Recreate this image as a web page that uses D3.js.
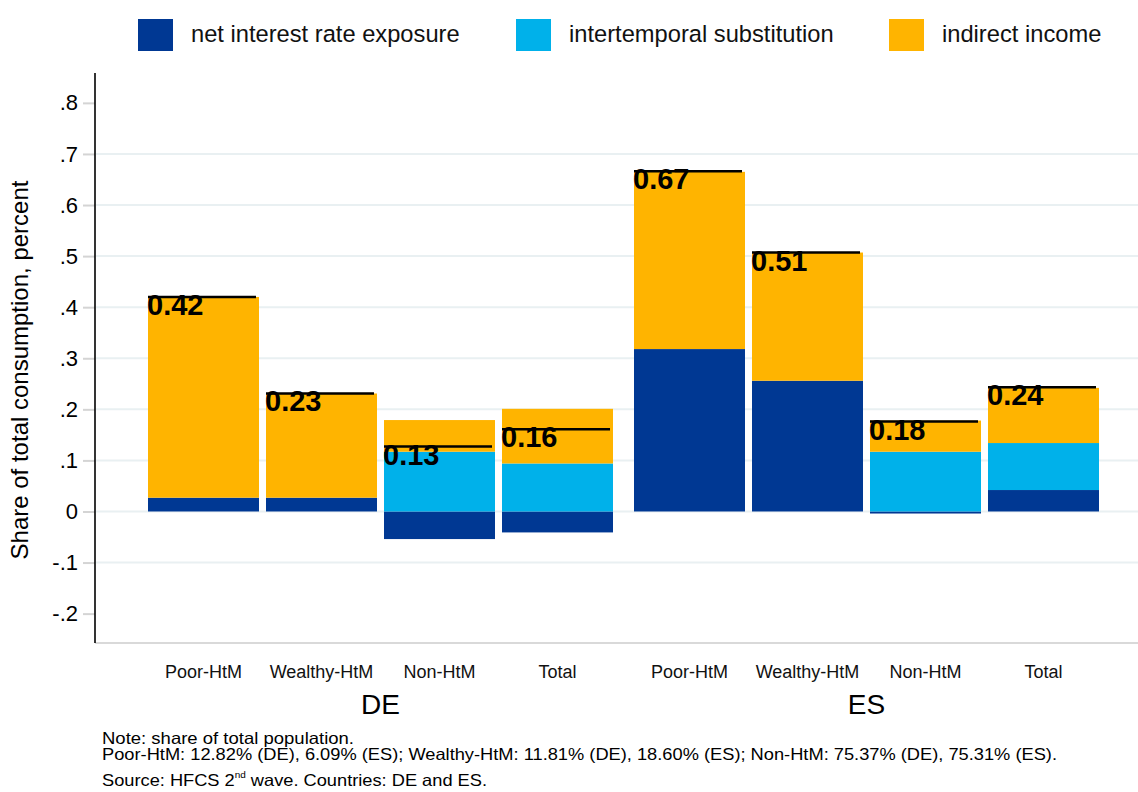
<!DOCTYPE html>
<html>
<head>
<meta charset="utf-8">
<script src="https://cdn.jsdelivr.net/npm/d3@7"></script>
<style>
  html, body { margin: 0; padding: 0; background: #fff; }
  svg { display: block; font-family: "Liberation Sans", Arial, Helvetica, sans-serif; }
</style>
</head>
<body>
<svg id="chart" width="1138" height="792"></svg>
<script>
// ---- data ----
const countries = ["DE", "ES"];
const groups = ["Poor-HtM", "Wealthy-HtM", "Non-HtM", "Total"];
const seriesNames = ["net interest rate exposure", "intertemporal substitution", "indirect income"];
const seriesColors = ["#003893", "#00b1ea", "#ffb400"];
// order: DE (Poor, Wealthy, Non, Total), ES (Poor, Wealthy, Non, Total)
const netInterest   = [0.027, 0.027, -0.054, -0.041, 0.318, 0.256, -0.004, 0.042];
const intertemporal = [0.000, 0.000,  0.117,  0.094, 0.000, 0.000,  0.117, 0.092];
const indirectInc   = [0.393, 0.204,  0.062,  0.107, 0.347, 0.251,  0.061, 0.108];
const totalEffect   = [0.420, 0.231,  0.127,  0.161, 0.666, 0.507,  0.176, 0.243];
const yTicks = [-0.2, -0.1, 0, 0.1, 0.2, 0.3, 0.4, 0.5, 0.6, 0.7, 0.8];
const noteLines = [
  "Note: share of total population.",
  "Poor-HtM: 12.82% (DE), 6.09% (ES); Wealthy-HtM: 11.81% (DE), 18.60% (ES); Non-HtM: 75.37% (DE), 75.31% (ES)."
];

// ---- build rows ----
const rows = [];
countries.forEach((c, ci) => groups.forEach((g, gi) => {
  const i = ci * groups.length + gi;
  rows.push({
    country: c, group: g,
    [seriesNames[0]]: netInterest[i],
    [seriesNames[1]]: intertemporal[i],
    [seriesNames[2]]: indirectInc[i],
    total: totalEffect[i]
  });
}));

const svg = d3.select("#chart");
const axisX = 95, plotRight = 1138, plotTop = 73, plotBottom = 643;

const y = d3.scaleLinear().domain([-0.2575, 0.8585]).range([plotBottom, plotTop]);
const xOuter = d3.scaleBand().domain(countries).range([148, 1099]).paddingInner(21 / 486).paddingOuter(0);
const xInner = d3.scaleBand().domain(groups).range([0, xOuter.bandwidth()]).paddingInner(7 / 118).paddingOuter(0);
const xPos = d => xOuter(d.country) + xInner(d.group);

// gridlines (inner ticks only)
svg.append("g").selectAll("line")
  .data(yTicks.filter(t => t > -0.2 && t < 0.8))
  .join("line")
  .attr("x1", axisX + 1).attr("x2", plotRight)
  .attr("y1", d => y(d)).attr("y2", d => y(d))
  .attr("stroke", "#e9f0f2").attr("stroke-width", 2);

// y axis
const fmtTick = v => {
  if (Math.abs(v) < 1e-9) return "0";
  return d3.format(".1f")(v).replace("\u2212", "-").replace("0.", ".");
};
const yAxis = d3.axisLeft(y).tickValues(yTicks).tickFormat(fmtTick).tickSize(12).tickPadding(5);
const gy = svg.append("g").attr("transform", `translate(${axisX},0)`).call(yAxis);
gy.select(".domain").remove();
gy.selectAll(".tick line").attr("stroke", "#d4d4d4").attr("stroke-width", 2);
gy.selectAll(".tick text").attr("font-size", 22).attr("fill", "#000")
  .attr("font-family", "'Liberation Sans', Arial, sans-serif");

// bottom axis line
svg.append("line").attr("x1", axisX).attr("x2", plotRight)
  .attr("y1", plotBottom).attr("y2", plotBottom)
  .attr("stroke", "#d9d9d9").attr("stroke-width", 2);

// stacked bars
const stack = d3.stack().keys(seriesNames).offset(d3.stackOffsetDiverging);
const layers = stack(rows);
svg.append("g").selectAll("g")
  .data(layers).join("g")
  .attr("fill", (d, i) => seriesColors[i])
  .selectAll("rect")
  .data(d => d.filter(s => Math.abs(s[1] - s[0]) > 1e-9))
  .join("rect")
  .attr("x", s => xPos(s.data))
  .attr("width", xInner.bandwidth())
  .attr("y", s => y(Math.max(s[0], s[1])))
  .attr("height", s => Math.abs(y(s[0]) - y(s[1])));

// y axis line (on top)
svg.append("line").attr("x1", axisX).attr("x2", axisX)
  .attr("y1", plotTop).attr("y2", plotBottom)
  .attr("stroke", "#000").attr("stroke-width", 1.6);

// total lines + labels
const tg = svg.append("g");
tg.selectAll("line").data(rows).join("line")
  .attr("x1", d => xPos(d)).attr("x2", d => xPos(d) + xInner.bandwidth() - 3)
  .attr("y1", d => y(d.total)).attr("y2", d => y(d.total))
  .attr("stroke", "#000").attr("stroke-width", 2.5);
tg.selectAll("text").data(rows).join("text")
  .attr("x", d => xPos(d) - 1)
  .attr("y", d => y(d.total) + 18)
  .attr("font-size", 29).attr("font-weight", "bold").attr("fill", "#000")
  .text(d => d3.format(".2f")(d.total));

// category labels
svg.append("g").selectAll("text").data(rows).join("text")
  .attr("x", d => xPos(d) + xInner.bandwidth() / 2)
  .attr("y", 678)
  .attr("text-anchor", "middle").attr("font-size", 18).attr("fill", "#111")
  .text(d => d.group);

// country labels
svg.append("g").selectAll("text").data(countries).join("text")
  .attr("x", c => xOuter(c) + xOuter.bandwidth() / 2)
  .attr("y", 714)
  .attr("text-anchor", "middle").attr("font-size", 28).attr("fill", "#000")
  .text(c => c);

// y title
svg.append("text")
  .attr("transform", "translate(28,370) rotate(-90)")
  .attr("text-anchor", "middle").attr("font-size", 24).attr("fill", "#000")
  .text("Share of total consumption, percent");

// legend
const legendX = [138, 516, 889];
const lg = svg.append("g").selectAll("g").data(seriesNames).join("g")
  .attr("transform", (d, i) => `translate(${legendX[i]},19)`);
lg.append("rect").attr("width", 35).attr("height", 32).attr("fill", (d, i) => seriesColors[i]);
lg.append("text").attr("x", 53).attr("y", 23).attr("font-size", 23.7).attr("fill", "#111").text(d => d);

// notes
const noteLen = [252, 955];
svg.append("g").selectAll("text").data(noteLines).join("text")
  .attr("x", 102).attr("y", (d, i) => 744 + i * 16)
  .attr("font-size", 16.5).attr("fill", "#000")
  .attr("textLength", (d, i) => noteLen[i]).attr("lengthAdjust", "spacingAndGlyphs")
  .text(d => d);
const src = svg.append("text").attr("x", 102).attr("y", 786).attr("font-size", 16.5).attr("fill", "#000")
  .attr("textLength", 385).attr("lengthAdjust", "spacingAndGlyphs");
src.append("tspan").text("Source: HFCS 2");
src.append("tspan").attr("dy", -8).attr("font-size", 9).text("nd");
src.append("tspan").attr("dy", 8).text(" wave. Countries: DE and ES.");
</script>
</body>
</html>
